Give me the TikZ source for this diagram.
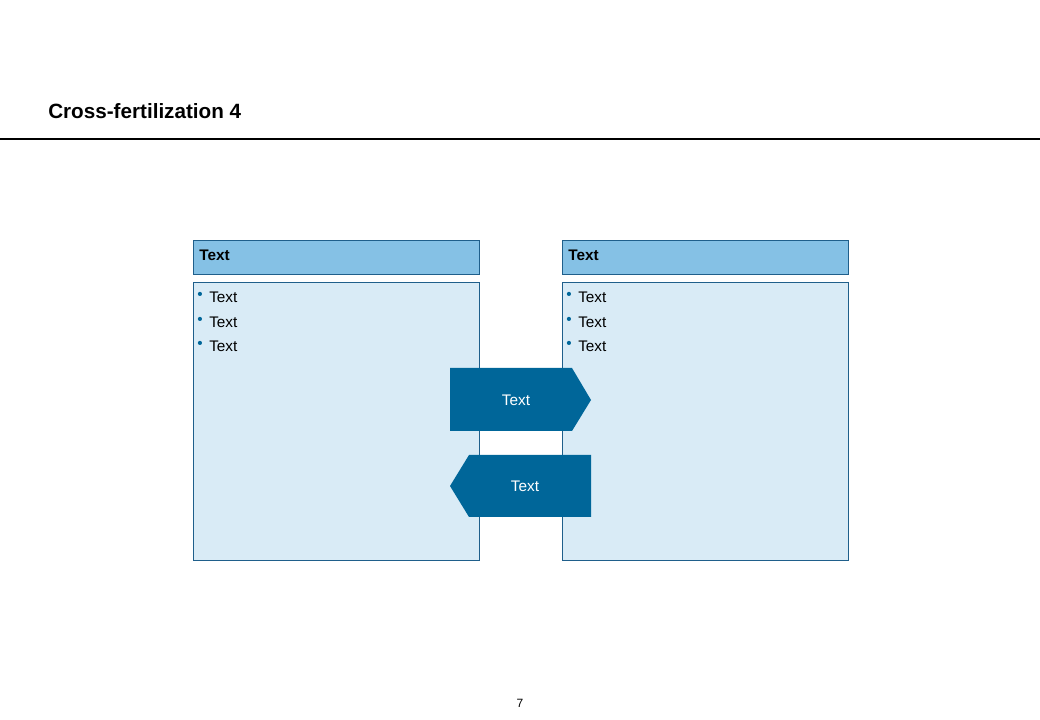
\documentclass[tikz,border=0pt]{standalone}
\usepackage{fontspec}
\setmainfont{Liberation Sans}
\begin{document}
\begin{tikzpicture}[x=0.75pt,y=-0.75pt,
  hdr/.style={draw=hdrline,fill=hdrfill,line width=0.6pt},
  bodybox/.style={draw=hdrline,fill=bodyfill,line width=0.6pt},
  arr/.style={fill=arrfill,draw=none},
  lbl/.style={font=\fontsize{11.5}{13}\selectfont,anchor=west,inner sep=0pt},
  bul/.style={font=\fontsize{11.5}{13}\selectfont,anchor=west,inner sep=0pt,text=arrfill}]
\definecolor{hdrline}{HTML}{1F5F8B}
\definecolor{hdrfill}{HTML}{85C1E5}
\definecolor{bodyfill}{HTML}{D9EBF6}
\definecolor{arrfill}{HTML}{006699}
\useasboundingbox (0,0) rectangle (1040,720);
\node[anchor=west,inner sep=0pt,font=\bfseries\fontsize{15.5}{18}\selectfont] (title) at (48,111) {Cross-fertilization 4};
\coordinate (la) at (0,139); \coordinate (lb) at (1040,139);
\draw[line width=0.8pt] (la) -- (lb);
\foreach \x/\n in {193/L,562/R}{
  \draw[hdr] (\x,240) rectangle ++(286,34);
  \node[anchor=west,inner sep=0pt,font=\bfseries\fontsize{11.5}{13}\selectfont] (h\n) at (\x+6,255) {Text};
  \draw[bodybox] (\x,282) rectangle ++(286,278);
  \foreach \y/\k in {297/1,322/2,346/3}{
    \node[bul] (b\n\k) at (\x+4,\y-1) {•};
    \node[lbl] (t\n\k) at (\x+16,\y) {Text};
  }
}
\fill[arr] (450,368) -- (572,368) -- (591,400) -- (572,431) -- (450,431) -- cycle;
\node[text=white,font=\fontsize{11.5}{13}\selectfont] (a1) at (516,400) {Text};
\fill[arr] (469,455) -- (591,455) -- (591,517) -- (469,517) -- (450,486) -- cycle;
\node[text=white,font=\fontsize{11.5}{13}\selectfont] (a2) at (525,486) {Text};
\node[font=\fontsize{9}{11}\selectfont] (pg) at (520,703) {7};
\end{tikzpicture}
\end{document}
